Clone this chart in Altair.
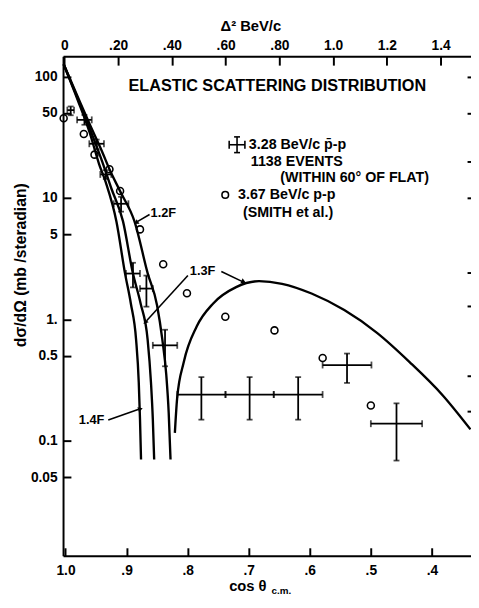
import altair as alt
import pandas as pd

FONT = "Liberation Sans"

# ---------------- axis ticks / labels ----------------
x_ticks = [1.0, 0.9, 0.8, 0.7, 0.6, 0.5, 0.4]
x_tick_labels = ["1.0", ".9", ".8", ".7", ".6", ".5", ".4"]
top_ticks = [0, 0.2, 0.4, 0.6, 0.8, 1.0, 1.2, 1.4]
top_tick_labels = ["0", ".20", ".40", ".60", ".80", "1.0", "1.2", "1.4"]
y_ticks = [100, 50, 10, 5, 1, 0.5, 0.1, 0.05]
y_tick_labels = ["100", "50", "10", "5", "1.", "0.5", "0.1", "0.05"]
right_ticks = [100, 50, 20, 10, 2.44, 1.29, 0.34, 0.175]

# ---------------- theoretical curves (black disk radii) ----------------
c12_cos = [1.003, 0.98, 0.96, 0.94, 0.928, 0.91, 0.887, 0.8655, 0.85, 0.8414, 0.835, 0.831, 0.828]
c12_val = [126, 68, 40, 24, 17.2, 11.2, 6.4, 2.4, 1.3, 0.68, 0.35, 0.17, 0.07]
c13_cos = [1.003, 0.98, 0.96, 0.94, 0.925, 0.9058, 0.8897, 0.877, 0.8655, 0.86, 0.857, 0.8548]
c13_val = [126, 66, 37, 20, 12, 6.4, 2.4, 1.35, 0.68, 0.3, 0.15, 0.07]
c14_cos = [1.003, 0.98, 0.96, 0.945, 0.934, 0.9166, 0.9026, 0.893, 0.8844, 0.88, 0.878, 0.8763]
c14_val = [126, 64, 34, 19, 13.4, 6.4, 2.4, 1.35, 0.68, 0.3, 0.15, 0.07]
lobe_cos = [0.8209, 0.8172, 0.8064, 0.785, 0.7581, 0.7206, 0.6831, 0.6454, 0.5971, 0.5435, 0.4899, 0.4361, 0.3825, 0.3369]
lobe_val = [0.116, 0.223, 0.442, 0.875, 1.35, 1.84, 2.06, 1.96, 1.63, 1.19, 0.773, 0.442, 0.237, 0.124]

# ---------------- 3.67 BeV/c p-p (Smith et al.) ----------------
pp_cos = [1.003, 0.970, 0.9525, 0.928, 0.9106, 0.878, 0.840, 0.8011, 0.7383, 0.6578, 0.5789, 0.50]
pp_val = [45.3, 33.6, 22.7, 17.2, 11.4, 5.5, 2.84, 1.64, 1.05, 0.81, 0.48, 0.195]

# ---------------- 3.28 BeV/c pbar-p ----------------
pb_hi = [0.997, 0.981, 0.961, 0.943, 0.921, 0.901, 0.878, 0.857, 0.817, 0.738, 0.659, 0.579, 0.500]
pb_lo = [0.986, 0.957, 0.937, 0.925, 0.897, 0.878, 0.857, 0.817, 0.738, 0.659, 0.579, 0.499, 0.416]
pb_val = [52.8, 43.9, 27.9, 15.6, 8.94, 2.38, 1.79, 0.61, 0.24, 0.24, 0.24, 0.42, 0.138]
pb_elo = [47.9, 40.0, 25.1, 14.3, 7.7, 1.83, 1.27, 0.41, 0.149, 0.149, 0.149, 0.299, 0.0686]
pb_ehi = [56.6, 48.2, 30.2, 16.9, 10.2, 2.92, 2.29, 0.82, 0.334, 0.334, 0.334, 0.522, 0.203]


def label_expr(vals, labels):
    expr = "''"
    for v, l in reversed(list(zip(vals, labels))):
        expr = f"abs(datum.value - {v}) < 1e-9 ? '{l}' : {expr}"
    return expr


xs = alt.Scale(domain=[0.336, 1.004], reverse=True, nice=False, zero=False)
ys = alt.Scale(type="log", domain=[0.0113, 146.6], nice=False)
ts = alt.Scale(domain=[-0.005, 1.513], nice=False, zero=False)

curves = pd.concat([
    pd.DataFrame({"curve": "1.2F", "cos": c12_cos, "val": c12_val}),
    pd.DataFrame({"curve": "1.3F", "cos": c13_cos, "val": c13_val}),
    pd.DataFrame({"curve": "1.4F", "cos": c14_cos, "val": c14_val}),
    pd.DataFrame({"curve": "1.3F lobe", "cos": lobe_cos, "val": lobe_val}),
], ignore_index=True)
curves["ord"] = -curves["cos"]
pp = pd.DataFrame({"cos": pp_cos, "val": pp_val})
pb = pd.DataFrame({"lo": pb_lo, "hi": pb_hi, "val": pb_val, "elo": pb_elo, "ehi": pb_ehi})

lab_common = dict(labelFont=FONT, labelFontWeight="bold", labelFontSize=14, labelColor="black")

# circles + main bottom/left axes
circles = alt.Chart(pp).mark_point(shape="circle", filled=False, size=50, strokeWidth=1.6,
                                   color="black", opacity=1).encode(
    x=alt.X("cos:Q", scale=xs, axis=alt.Axis(orient="bottom", values=x_ticks,
                                             labelExpr=label_expr(x_ticks, x_tick_labels),
                                             ticks=False, domain=True, domainColor="black",
                                             domainWidth=2, labelPadding=8, grid=False,
                                             title=None, **lab_common)),
    y=alt.Y("val:Q", scale=ys, axis=alt.Axis(orient="left", values=y_ticks,
                                             labelExpr=label_expr(y_ticks, y_tick_labels),
                                             ticks=False, domain=True, domainColor="black",
                                             domainWidth=2, labelPadding=6, grid=False,
                                             title="dσ/dΩ  (mb /steradian)",
                                             titleFont=FONT, titleFontSize=16,
                                             titleFontWeight="bold", titleColor="black",
                                             titleX=-43, titleY=212, titleAngle=-90,
                                             titleAlign="center", titleBaseline="middle",
                                             **lab_common)),
)

# inward ticks bottom/left
inticks = alt.Chart(pp).mark_point(opacity=0).encode(
    x=alt.X("cos:Q", scale=xs, axis=alt.Axis(orient="bottom", values=x_ticks, offset=-8,
                                             tickSize=8, tickWidth=2, tickColor="black",
                                             domain=False, labels=False, grid=False, title=None)),
    y=alt.Y("val:Q", scale=ys, axis=alt.Axis(orient="left", values=y_ticks, offset=-8,
                                             tickSize=8, tickWidth=2, tickColor="black",
                                             domain=False, labels=False, grid=False, title=None)),
)

# right inward small ticks
rticks = alt.Chart(pd.DataFrame({"v": right_ticks})).mark_point(opacity=0).encode(
    y=alt.Y("v:Q", scale=ys, axis=alt.Axis(orient="right", values=right_ticks, offset=-4,
                                           tickSize=4, tickWidth=2, tickColor="black",
                                           domain=False, labels=False, grid=False, title=None)),
)

# top axis (Delta^2)
topdf = pd.DataFrame({"d2": top_ticks})
topax = alt.Chart(topdf).mark_point(opacity=0).encode(
    x=alt.X("d2:Q", scale=ts, axis=alt.Axis(orient="top", values=top_ticks,
                                            labelExpr=label_expr(top_ticks, top_tick_labels),
                                            ticks=False, domain=True, domainColor="black",
                                            domainWidth=2, labelPadding=4, grid=False,
                                            title=None, **lab_common)),
)
toptk = alt.Chart(topdf).mark_point(opacity=0).encode(
    x=alt.X("d2:Q", scale=ts, axis=alt.Axis(orient="top", values=top_ticks, offset=-9,
                                            tickSize=9, tickWidth=2, tickColor="black",
                                            domain=False, labels=False, grid=False, title=None)),
)

lines = alt.Chart(curves).mark_line(color="black", strokeWidth=2.4, interpolate="monotone").encode(
    x=alt.X("cos:Q", scale=xs, axis=None),
    y=alt.Y("val:Q", scale=ys, axis=None),
    detail="curve:N",
    order="ord:Q",
)

base_pb = alt.Chart(pb).transform_calculate(mid="(datum.lo + datum.hi) / 2")
hbar = base_pb.mark_rule(color="black", strokeWidth=1.8).encode(
    x=alt.X("lo:Q", scale=xs, axis=None), x2="hi:Q",
    y=alt.Y("val:Q", scale=ys, axis=None))
vbar = base_pb.mark_rule(color="black", strokeWidth=1.8).encode(
    x=alt.X("mid:Q", scale=xs, axis=None),
    y=alt.Y("elo:Q", scale=ys, axis=None), y2="ehi:Q")
cap_lo = base_pb.mark_tick(orient="horizontal", size=6, thickness=1.8, color="black").encode(
    x=alt.X("mid:Q", scale=xs, axis=None), y=alt.Y("elo:Q", scale=ys, axis=None))
cap_hi = base_pb.mark_tick(orient="horizontal", size=6, thickness=1.8, color="black").encode(
    x=alt.X("mid:Q", scale=xs, axis=None), y=alt.Y("ehi:Q", scale=ys, axis=None))
cap_l = base_pb.mark_tick(orient="vertical", size=7, thickness=1.8, color="black").encode(
    x=alt.X("lo:Q", scale=xs, axis=None), y=alt.Y("val:Q", scale=ys, axis=None))
cap_r = base_pb.mark_tick(orient="vertical", size=7, thickness=1.8, color="black").encode(
    x=alt.X("hi:Q", scale=xs, axis=None), y=alt.Y("val:Q", scale=ys, axis=None))

one = pd.DataFrame({"k": [0]})


def txt(s, x, y, size=14.5, align="left", style="normal", baseline="middle"):
    return alt.Chart(one).mark_text(text=s, font=FONT, fontSize=size, fontWeight="bold",
                                    fontStyle=style, align=align, baseline=baseline,
                                    color="black").encode(x=alt.value(x), y=alt.value(y))


def seg(x1, y1, x2, y2, w=1.6):
    return alt.Chart(one).mark_rule(color="black", strokeWidth=w).encode(
        x=alt.value(x1), y=alt.value(y1), x2=alt.value(x2), y2=alt.value(y2))


def head(x, y, ang):
    return alt.Chart(one).mark_point(shape="triangle", filled=True, size=30, angle=ang,
                                     color="black", opacity=1).encode(
        x=alt.value(x), y=alt.value(y))


deco = [
    txt("ELASTIC  SCATTERING DISTRIBUTION", 218, 30, size=16.5, align="center"),
    txt("Δ² BeV/c", 191, -31, size=15, align="center"),
    txt("cos θ", 188, 539, size=15, align="center"),
    txt("c.m.", 212, 544, size=10, align="left"),
    # legend
    seg(169, 90, 185, 90), seg(177, 82, 177, 98),
    seg(169, 86, 169, 94), seg(185, 86, 185, 94),
    seg(174, 82, 180, 82), seg(174, 98, 180, 98),
    txt("3.28 BeV/c p̄-p", 189, 90),
    txt("1138 EVENTS", 191, 108),
    txt("(WITHIN 60° OF FLAT)", 221, 124),
    alt.Chart(one).mark_point(shape="circle", filled=False, size=45, strokeWidth=1.6,
                              color="black", opacity=1).encode(x=alt.value(165), y=alt.value(141)),
    txt("3.67 BeV/c p-p", 178, 141),
    txt("(SMITH et al.)", 183, 159),
    # curve labels + arrows
    txt("1.2F", 102, 160, size=13, align="center"),
    seg(88, 161, 76, 168), head(75, 169, 238),
    txt("1.3F", 142, 219, size=13, align="center"),
    seg(127, 223, 85, 269), head(84, 270, 222),
    seg(161, 219, 182, 229), head(183, 229, 114),
    txt("1.4F", 29, 370, size=13, align="center"),
    seg(46, 370, 77, 359), head(78, 359, 71),
]

chart = alt.layer(
    circles, inticks, rticks, topax, toptk, lines, hbar, vbar, cap_lo, cap_hi, cap_l, cap_r,
    *deco
).resolve_scale(x="independent", y="independent").resolve_axis(
    x="independent", y="independent"
).properties(
    width=415, height=508,
    padding={"left": 56, "top": 44, "right": 0, "bottom": 40},
    autosize=alt.AutoSizeParams(type="none"),
    background="white",
).configure_view(stroke=None)

chart.save("out.html", embed_options={"renderer": "svg", "actions": False})
